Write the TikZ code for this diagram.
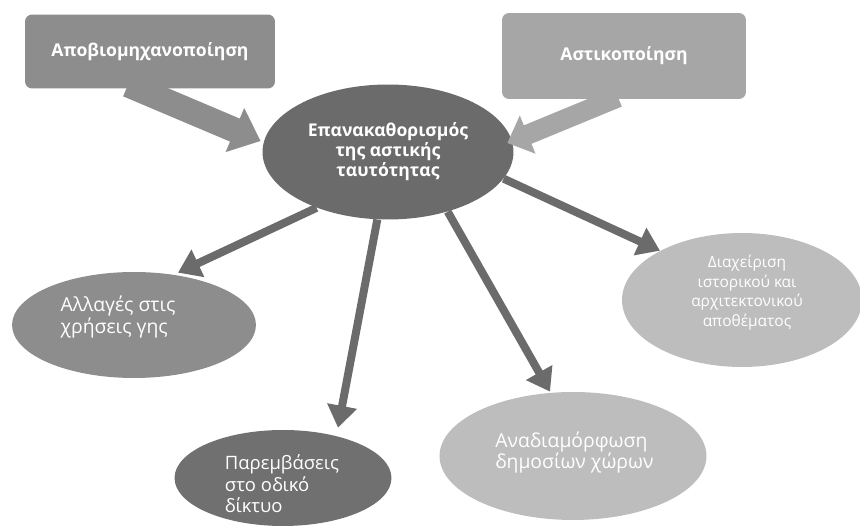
\documentclass[tikz,border=0pt]{standalone}
\usepackage{fontspec}
\setmainfont{Open Sans}
\usepackage{xcolor}
\usetikzlibrary{shapes.geometric, arrows.meta, positioning, calc}
\pgfdeclarelayer{background}
\pgfsetlayers{background,main}
\definecolor{coregrey}{HTML}{6B6B6B}
\definecolor{midgrey}{HTML}{8D8D8D}
\definecolor{lightgrey}{HTML}{A6A6A6}
\definecolor{roadgrey}{HTML}{707070}
\definecolor{palegrey}{HTML}{BDBDBD}

\begin{document}
\begin{tikzpicture}[x=0.02cm, y=-0.02cm,
    topbox/.style={rectangle, rounded corners=4pt, inner sep=0pt, text=white,
        font=\fontsize{10}{12}\selectfont\bfseries},
    blob/.style={ellipse, inner sep=0pt, text=white},
    blobtext/.style={text=white, align=left, font=\fontsize{11}{13}\selectfont},
    bigarrow/.style={line cap=butt},
    thinarrow/.style={draw=coregrey, line width=0.16cm,
        -{Triangle[length=0.44cm, width=0.58cm]}}]
    \useasboundingbox (0,0) rectangle (860,526);

    % Causes
    \node[topbox, fill=midgrey, minimum width=5cm, minimum height=1.48cm]
        (deind) at (150,51.5) {Αποβιομηχανοποίηση};
    \node[topbox, fill=lightgrey, minimum width=4.88cm, minimum height=1.72cm]
        (urban) at (624,56) {Αστικοποίηση};

    % Core and big arrows (under the boxes)
    \begin{pgfonlayer}{background}
    \node[blob, fill=coregrey, minimum width=5.02cm, minimum height=2.7cm,
        align=center, font=\fontsize{10}{9.5}\selectfont\bfseries]
        (core) at (388,152) {Επανακαθορισμός\\της αστικής\\ταυτότητας};
    \draw[bigarrow, draw=midgrey, line width=0.5cm,
        -{Triangle[length=0.56cm, width=0.92cm]}]
        ($(deind.south)+(-22,-4)$) -- ($(core.west)+(-1.5,-11)$);
    \draw[bigarrow, draw=lightgrey, line width=0.4cm,
        -{Triangle[length=0.44cm, width=0.8cm]}]
        ($(urban.south)+(-6,-2)$) -- ($(core.east)+(-6.5,-9)$);
    \end{pgfonlayer}

    % Outcomes
    \node[blob, fill=midgrey, minimum width=4.88cm, minimum height=2.12cm,
        label={[blobtext, xshift=-0.32cm, yshift=0.16cm]center:Αλλαγές στις\\χρήσεις γης}]
        (landuse) at (134,325) {};
    \node[blob, fill=roadgrey, minimum width=4.34cm, minimum height=1.92cm,
        label={[blobtext, xshift=-0.02cm, yshift=-0.12cm,
            font=\fontsize{10.5}{12.2}\selectfont]center:Παρεμβάσεις\\στο οδικό\\δίκτυο}]
        (roads) at (283,478) {};
    \node[blob, fill=palegrey, minimum width=5.34cm, minimum height=2.56cm,
        label={[blobtext, xshift=0.03cm, yshift=0.07cm,
            font=\fontsize{11}{12}\selectfont]center:Αναδιαμόρφωση\\δημοσίων χώρων}]
        (public) at (573,456) {};
    \node[blob, fill=palegrey, minimum width=4.8cm, minimum height=2.68cm,
        label={[blobtext, align=center, xshift=0.1cm, yshift=0.15cm,
            font=\fontsize{8.8}{11.2}\selectfont]center:Διαχείριση\\ιστορικού και\\αρχιτεκτονικού\\αποθέματος}]
        (heritage) at (742,300) {};

    % Arrows out of the core
    \draw[thinarrow] (core.218) -- ($(landuse.north)+(44,1)$);
    \draw[thinarrow] (core.261) -- ($(roads.north)+(55,-2)$);
    \draw[thinarrow] (core.315) -- ($(public.north)+(-23,0)$);
    \draw[thinarrow] (core.347) -- (heritage.149);
\end{tikzpicture}
\end{document}
